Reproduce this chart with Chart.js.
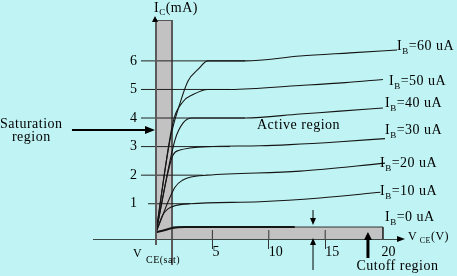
<!DOCTYPE html>
<html>
<head>
<meta charset="utf-8">
<script src="https://cdn.jsdelivr.net/npm/chart.js@4/dist/chart.umd.min.js"></script>
<style>
html,body{margin:0;padding:0;background:#C0F4F4;}
canvas{display:block;}
</style>
</head>
<body>
<canvas id="c" width="457" height="276"></canvas>
<script>
// ---- data ----
const baseCurrentsUA = [60, 50, 40, 30, 20, 10, 0];
const vce60 = [0, 1.24, 2.13, 2.84, 3.72, 4.61, 7.89, 12.77, 17.2, 21.37];
const ic60  = [0, 3.23, 4.52, 5.30, 5.70, 6.00, 6.00, 6.17, 6.28, 6.38];
const vce50 = [0, 1.51, 2.39, 3.28, 4.61, 6.56, 12.77, 16.76, 20.12];
const ic50  = [0, 3.86, 4.57, 4.82, 5.00, 5.00, 5.14, 5.24, 5.35];
const vce40 = [0, 1.68, 2.39, 3.19, 7.89, 12.77, 16.31, 20.12];
const ic40  = [0, 3.23, 3.82, 4.00, 4.00, 4.14, 4.24, 4.35];
const vce30 = [0, 1.51, 2.13, 3.01, 4.52, 9.22, 11.88, 16.31, 20.30];
const ic30  = [0, 2.71, 2.88, 2.95, 3.00, 3.03, 3.07, 3.17, 3.28];
const vce20 = [0, 1.68, 2.39, 3.01, 4.52, 12.77, 20.30];
const ic20  = [0, 1.58, 1.83, 1.93, 2.00, 2.14, 2.42];
const vce10 = [0, 0.62, 1.06, 1.68, 3.01, 9.22, 14.54, 19.90];
const ic10  = [0, 0.62, 0.82, 0.93, 1.00, 1.07, 1.20, 1.40];
const vce0  = [0, 0.80, 1.42, 2.57, 12.30];
const ic0   = [0, 0.08, 0.15, 0.185, 0.185];
const curveV = [vce60, vce50, vce40, vce30, vce20, vce10, vce0];
const curveI = [ic60, ic50, ic40, ic30, ic20, ic10, ic0];

const xTickValues = [5, 10, 15, 20];
const yTickValues = [1, 2, 3, 4, 5, 6];
const yTickLabels = ['1', '2', '3', '4', '5', '6'];
const guideStartV = [-0.71, -1.33, -1.33, -1.33, -1.33, -1.33];
const guideEndV   = [3.01, 4.17, 6.56, 7.89, 6.56, 7.89];

const vceSat = 1.42;          // V_CE(sat)
const cutoffTopI = 0.185;     // top of cutoff band
const cutoffEndV = 20.12;

// label anchors (data units)
const ibLabelV = [21.37, 20.66, 20.30, 20.30, 19.86, 19.86, 20.30];
const ibLabelI = [6.38, 5.16, 4.38, 3.44, 2.29, 1.31, 0.39];

// ---- scale frame ----
const X_MIN = -5.585, X_MAX = 21.454, Y_MIN = -0.409, Y_MAX = 7.431, AXIS_I = -0.2345;
const Y_LABEL_V = -1.684;

const pts = (vs, is) => vs.map((v, k) => ({x: v, y: is[k]}));
const LINE = '#151515';

const datasets = [];
// curves
curveV.forEach((vs, k) => {
  datasets.push({
    label: 'IB=' + baseCurrentsUA[k] + ' uA',
    data: pts(vs, curveI[k]),
    borderColor: LINE, borderWidth: baseCurrentsUA[k] === 0 ? 2 : 1.1,
    pointRadius: 0, showLine: true, fill: false,
    cubicInterpolationMode: 'monotone', order: 0
  });
});
// tick guide lines
yTickValues.forEach((val, k) => {
  datasets.push({
    data: [{x: guideStartV[k], y: val}, {x: guideEndV[k], y: val}],
    borderColor: '#222', borderWidth: 1, pointRadius: 0, showLine: true, fill: false, order: 1
  });
});
// saturation band
datasets.push({
  data: [{x: 0, y: Y_MAX}, {x: vceSat, y: Y_MAX}],
  borderColor: '#555', borderWidth: 2, backgroundColor: '#C2C2C2',
  fill: {value: AXIS_I}, pointRadius: 0, showLine: true, order: 10
});
// cutoff band
datasets.push({
  data: [{x: vceSat, y: cutoffTopI}, {x: cutoffEndV, y: cutoffTopI}, {x: cutoffEndV, y: AXIS_I}],
  borderColor: '#333', borderWidth: 1, backgroundColor: '#C2C2C2',
  fill: {value: AXIS_I}, pointRadius: 0, showLine: true, order: 10
});
// V_CE(sat) edge line
datasets.push({
  data: [{x: vceSat, y: Y_MAX}, {x: vceSat, y: -1.145}],
  borderColor: '#5a5a5a', borderWidth: 2, pointRadius: 0, showLine: true, fill: false,
  clip: false, order: 5
});
// upper halves of x tick marks (inside band)
xTickValues.filter(v => v < 20).forEach(v => {
  datasets.push({
    data: [{x: v, y: AXIS_I}, {x: v, y: 0.08}],
    borderColor: '#333', borderWidth: 1, pointRadius: 0, showLine: true, fill: false, order: 4
  });
});

// ---- annotations (data units) ----
const texts = [
  {t: 'Saturation', v: -13.83, i: 3.65},
  {t: 'region', v: -12.77, i: 3.19},
  {t: 'Active region', v: 8.95, i: 3.6},
  {t: 'Cutoff region', v: 17.77, i: -1.32}
];
const arrowsData = [
  {v1: -7.45, i1: 3.58, v2: -0.09, i2: 3.58, w: 2, hl: 10, hw: 4},
  {v1: 13.92, i1: 0.78, v2: 13.92, i2: 0.255, w: 1, hl: 7, hw: 3},
  {v1: 13.92, i1: -1.32, v2: 13.92, i2: -0.2, w: 1, hl: 7, hw: 3},
  {v1: 18.79, i1: -0.9, v2: 18.79, i2: 0.01, w: 3, hl: 8, hw: 4}
];

const FONT = '"Liberation Serif", "Times New Roman", serif';
function subText(ctx, px, py, main, sub, rest, big, small, drop) {
  ctx.font = big + 'px ' + FONT; ctx.fillText(main, px, py);
  let w = ctx.measureText(main).width;
  ctx.font = small + 'px ' + FONT; ctx.fillText(sub, px + w, py + drop);
  w += ctx.measureText(sub).width;
  ctx.font = big + 'px ' + FONT; ctx.fillText(rest, px + w, py);
}
function arrow(ctx, x1, y1, x2, y2, w, hl, hw) {
  const a = Math.atan2(y2 - y1, x2 - x1);
  const bx = x2 - hl * Math.cos(a), by = y2 - hl * Math.sin(a);
  ctx.strokeStyle = '#000'; ctx.fillStyle = '#000'; ctx.lineWidth = w;
  ctx.beginPath(); ctx.moveTo(x1, y1); ctx.lineTo(bx, by); ctx.stroke();
  ctx.beginPath(); ctx.moveTo(x2, y2);
  ctx.lineTo(bx + hw * Math.sin(a), by - hw * Math.cos(a));
  ctx.lineTo(bx - hw * Math.sin(a), by + hw * Math.cos(a));
  ctx.closePath(); ctx.fill();
}

const annot = {
  id: 'annot',
  afterDraw(chart) {
    const {ctx, scales: {x, y}} = chart;
    const X = v => x.getPixelForValue(v), Y = v => y.getPixelForValue(v);
    ctx.save();
    ctx.fillStyle = '#000'; ctx.textAlign = 'left'; ctx.textBaseline = 'alphabetic';
    if (ctx.letterSpacing !== undefined) ctx.letterSpacing = '0.5px';
    baseCurrentsUA.forEach((ib, k) => {
      subText(ctx, X(ibLabelV[k]), Y(ibLabelI[k]), 'I', 'B', '=' + ib + ' uA', 14, 9, 4);
    });
    ctx.font = '14px ' + FONT;
    texts.forEach(o => ctx.fillText(o.t, X(o.v), Y(o.i)));
    // axis titles
    subText(ctx, X(-0.18), Y(7.71), 'I', 'C', '(mA)', 14, 9, 3);
    subText(ctx, X(22.34), Y(-0.27), 'V', ' CE', '(V)', 12, 8, 3);
    ctx.font = '12px ' + FONT; ctx.fillText('V', X(-2.04), Y(-0.865));
    ctx.font = '10px ' + FONT; ctx.fillText('CE(sat)', X(-0.89), Y(-1.075));
    if (ctx.letterSpacing !== undefined) ctx.letterSpacing = '0px';
    arrowsData.forEach(a => arrow(ctx, X(a.v1), Y(a.i1), X(a.v2), Y(a.i2), a.w, a.hl, a.hw));
    // axis arrowheads
    const ox = X(0), top = Y(Y_MAX), ax = X(X_MAX), ay = Y(AXIS_I);
    ctx.fillStyle = '#000';
    ctx.beginPath(); ctx.moveTo(ox - 1, top - 4); ctx.lineTo(ox - 4, top + 2); ctx.lineTo(ox + 2, top + 2); ctx.closePath(); ctx.fill();
    ctx.beginPath(); ctx.moveTo(ax + 7, ay); ctx.lineTo(ax - 1, ay - 3); ctx.lineTo(ax - 1, ay + 3); ctx.closePath(); ctx.fill();
    ctx.restore();
  }
};

const yTickSetter = s => { s.ticks = yTickValues.map(v => ({value: v})); };

new Chart(document.getElementById('c'), {
  type: 'scatter',
  data: {datasets},
  options: {
    responsive: false, animation: false, devicePixelRatio: 1,
    layout: {padding: {left: 93, top: 20, right: 59, bottom: 32}},
    plugins: {legend: {display: false}, tooltip: {enabled: false}},
    elements: {line: {tension: 0}},
    scales: {
      x: {
        type: 'linear', min: X_MIN, max: X_MAX, position: {y: AXIS_I},
        afterBuildTicks: s => { s.ticks = xTickValues.map(v => ({value: v})); },
        ticks: {align: 'start', padding: -4, color: '#000', font: {family: FONT, size: 14},
                callback: v => String(v)},
        grid: {drawOnChartArea: false, drawTicks: true, tickLength: 9,
               color: c => (c.tick && c.tick.value === 20) ? 'rgba(0,0,0,0)' : '#333'},
        border: {display: true, color: '#3a4848', width: 1, z: 1}
      },
      y: {
        type: 'linear', min: Y_MIN, max: Y_MAX, position: {x: 0},
        afterBuildTicks: yTickSetter,
        ticks: {display: false},
        grid: {display: false, drawTicks: false},
        border: {display: true, color: '#5a5a5a', width: 2, z: 1}
      },
      yLabels: {
        type: 'linear', axis: 'y', min: Y_MIN, max: Y_MAX, position: {x: Y_LABEL_V},
        afterBuildTicks: yTickSetter,
        ticks: {color: '#000', font: {family: FONT, size: 14},
                callback: v => yTickLabels[yTickValues.indexOf(v)]},
        grid: {display: false, drawTicks: false},
        border: {display: false}
      }
    }
  },
  plugins: [annot]
});
</script>
</body>
</html>
